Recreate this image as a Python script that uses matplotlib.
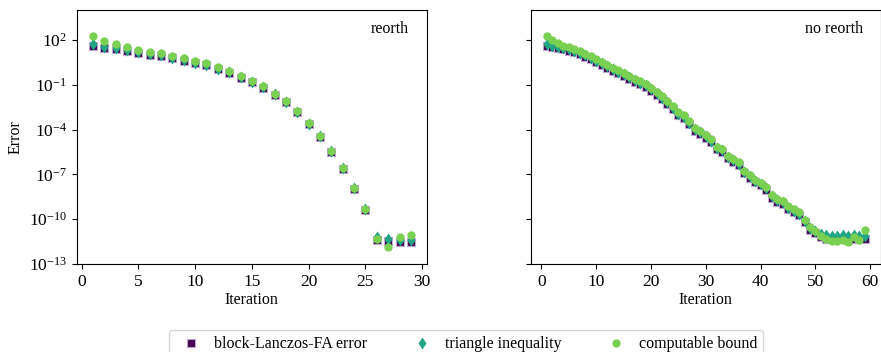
import numpy as np
import matplotlib.pyplot as plt

plt.rcParams['font.family'] = ['Liberation Serif', 'DejaVu Serif']
plt.rcParams['mathtext.fontset'] = 'stix'
plt.rcParams['font.size'] = 11.5
plt.rcParams['xtick.labelsize'] = 12.5
plt.rcParams['ytick.labelsize'] = 12.5

# log10 of the errors
it_re = list(range(1, 30))
bound_re = [2.27, 1.95, 1.71, 1.51, 1.35, 1.22, 1.11, 0.95, 0.77, 0.59,
            0.44, 0.17, -0.08, -0.41, -0.73, -1.10, -1.60, -2.10, -2.76, -3.58,
            -4.43, -5.43, -6.55, -7.89, -9.34, -11.30, -11.84, -11.22, -11.06]
tri_re = [1.73, 1.55, 1.45, 1.32, 1.18, 1.07, 0.97, 0.82, 0.65, 0.48,
          0.34, 0.08, -0.15, -0.47, -0.79, -1.15, -1.65, -2.14, -2.80, -3.60,
          -4.45, -5.45, -6.55, -7.88, -9.30, -11.18, -11.35, -11.40, -11.38]
err_re = [1.62, 1.48, 1.36, 1.25, 1.12, 1.01, 0.91, 0.76, 0.60, 0.43,
          0.29, 0.03, -0.21, -0.53, -0.85, -1.20, -1.70, -2.18, -2.85, -3.65,
          -4.50, -5.50, -6.62, -7.95, -9.38, -11.38, -11.45, -11.50, -11.50]

it_no = list(range(1, 60))
bound_no = [2.29, 1.98, 1.78, 1.62, 1.50, 1.38, 1.24, 1.08, 0.92, 0.70,
            0.52, 0.34, 0.14, -0.04, -0.22, -0.42, -0.60, -0.78, -0.96, -1.20,
            -1.48, -1.78, -2.10, -2.45, -2.85, -3.05, -3.45, -3.90, -4.10, -4.35,
            -4.65, -5.15, -5.30, -5.75, -5.95, -6.20, -6.75, -7.05, -7.35, -7.55,
            -7.85, -8.40, -8.65, -8.80, -9.15, -9.35, -9.55, -10.05, -10.55, -10.80,
            -11.10, -11.30, -11.45, -11.45, -11.40, -11.55, -11.20, -11.40, -10.75]
tri_no = [1.75, 1.62, 1.55, 1.45, 1.36, 1.25, 1.12, 0.97, 0.82, 0.60,
          0.42, 0.24, 0.04, -0.13, -0.31, -0.51, -0.69, -0.87, -1.05, -1.29,
          -1.57, -1.87, -2.19, -2.54, -2.94, -3.14, -3.54, -3.98, -4.19, -4.44,
          -4.74, -5.23, -5.39, -5.83, -6.04, -6.29, -6.83, -7.13, -7.43, -7.63,
          -7.93, -8.48, -8.73, -8.88, -9.23, -9.43, -9.63, -10.12, -10.60, -10.80,
          -10.98, -11.05, -11.10, -11.10, -11.05, -11.10, -11.08, -11.12, -11.10]
err_no = [1.62, 1.52, 1.45, 1.36, 1.27, 1.16, 1.03, 0.88, 0.72, 0.50,
          0.32, 0.14, -0.06, -0.23, -0.41, -0.61, -0.79, -0.97, -1.15, -1.39,
          -1.67, -1.97, -2.29, -2.64, -3.04, -3.24, -3.64, -4.08, -4.29, -4.54,
          -4.84, -5.33, -5.49, -5.93, -6.14, -6.39, -6.93, -7.23, -7.53, -7.73,
          -8.03, -8.58, -8.83, -8.98, -9.33, -9.53, -9.73, -10.22, -10.70, -10.95,
          -11.20, -11.30, -11.35, -11.35, -11.35, -11.38, -11.35, -11.35, -11.35]

labels = ['block-Lanczos-FA error', 'triangle inequality', 'computable bound']
c_err = '#440154'
c_tri = '#21a585'
c_bnd = '#7ad151'

fig = plt.figure(figsize=(8.81, 3.52), dpi=100)
ax1 = fig.add_axes([0.0874, 0.25, 0.397, 0.7216])
ax2 = fig.add_axes([0.6027, 0.25, 0.397, 0.7216], sharey=ax1)

for ax, it, e, t, b, name in [(ax1, it_re, err_re, tri_re, bound_re, 'reorth'),
                              (ax2, it_no, err_no, tri_no, bound_no, 'no reorth')]:
    ax.plot(it, 10.0 ** np.array(e), ls='none', marker='s', ms=5.5, color=c_err,
            mec='#c0a8d0', mew=0.8, label=labels[0])
    ax.plot(it, 10.0 ** np.array(t), ls='none', marker='d', ms=6, color=c_tri,
            mec='none', label=labels[1])
    ax.plot(it, 10.0 ** np.array(b), ls='none', marker='o', ms=6, color=c_bnd,
            mec='none', label=labels[2])
    ax.set_yscale('log')
    ax.set_xlabel('Iteration', labelpad=2)
    ax.text(0.95, 0.955, name, transform=ax.transAxes, ha='right', va='top')

ax1.set_ylim(1e-13, 1e4)
ax1.set_yticks([1e2, 1e-1, 1e-4, 1e-7, 1e-10, 1e-13])
ax1.minorticks_off()
ax2.minorticks_off()
ax1.set_xticks([0, 5, 10, 15, 20, 25, 30])
ax2.set_xticks([0, 10, 20, 30, 40, 50, 60])
ax1.set_ylabel('Error')
plt.setp(ax2.get_yticklabels(), visible=False)

h, l = ax1.get_legend_handles_labels()
fig.legend(h, l, loc='upper center', bbox_to_anchor=(0.529, 0.0625), ncol=3,
           fontsize=11.5, columnspacing=2.4, handletextpad=0.45, borderaxespad=0)

fig.savefig('out.png', dpi=100)
